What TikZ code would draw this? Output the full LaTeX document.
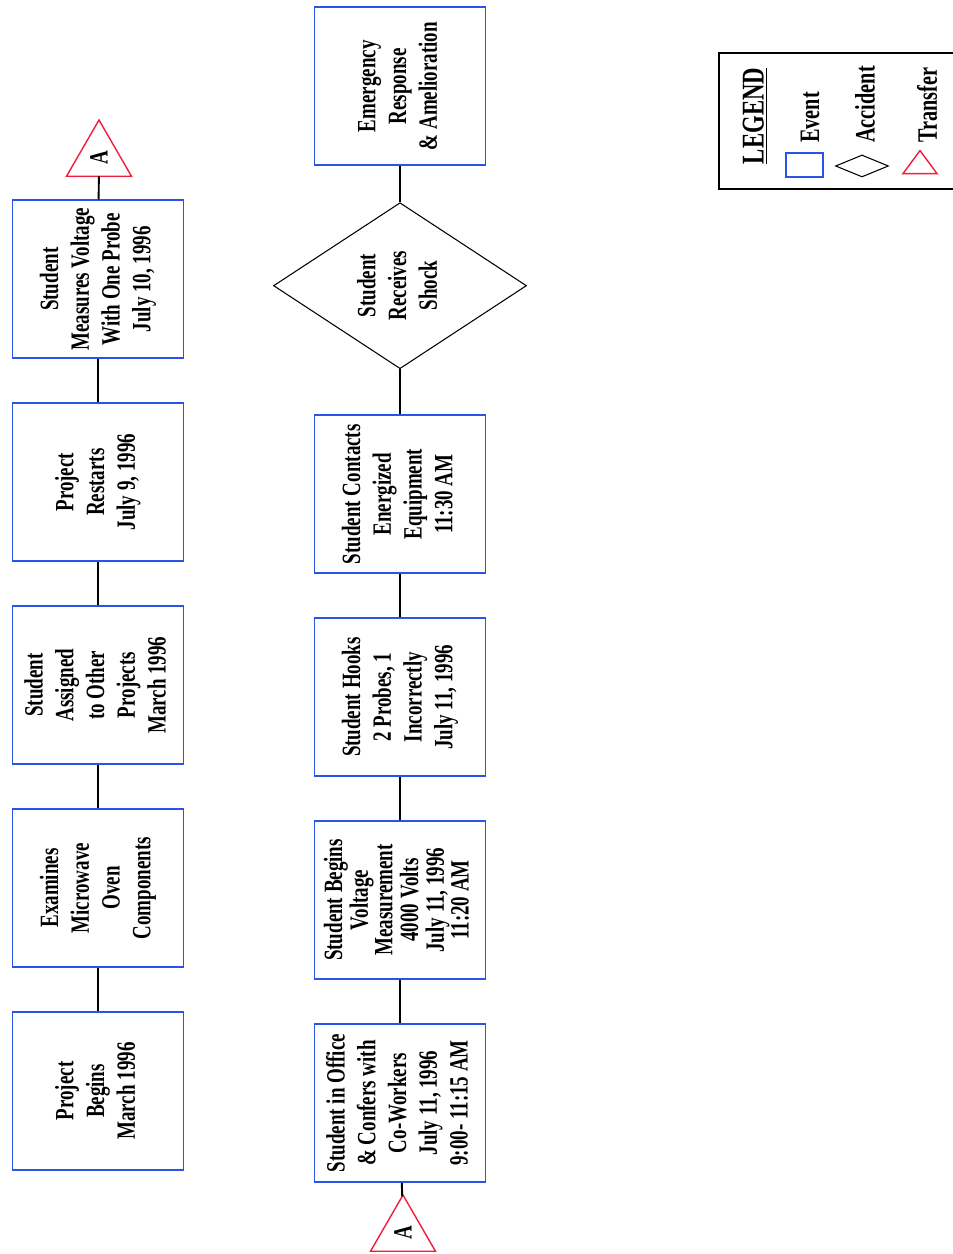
\documentclass[tikz,border=0pt]{standalone}
\usepackage{fontspec}
\setmainfont{Liberation Serif}[FakeStretch=0.72,BoldFont=Liberation Serif Bold,BoldFeatures={FakeStretch=0.72}]
\usetikzlibrary{positioning,shapes.geometric}
\definecolor{evblue}{RGB}{40,85,230}
\definecolor{trred}{RGB}{240,30,60}
\newcommand{\vtxt}[1]{\rotatebox{90}{\begin{tabular}{@{}c@{}}#1\end{tabular}}}

\begin{document}
\begin{tikzpicture}[
node distance=0.86cm,
txt/.style={font=\fontsize{15}{17.5}\selectfont\bfseries},
event/.style={txt,draw=evblue,line width=1.1pt,minimum width=3.42cm,minimum height=3.16cm,inner sep=0pt},
accident/.style={txt,draw,diamond,line width=0.6pt,minimum width=5.06cm,minimum height=3.32cm,inner sep=0pt},
transfer/.style={txt,draw=trred,regular polygon,regular polygon sides=3,minimum size=1.5cm,inner sep=0pt,outer sep=0pt,line width=0.8pt},
link/.style={line width=1.1pt}]
\useasboundingbox (0,0) rectangle (19.06,25.08);

% first chain
\node[event] (begins) at (1.96,3.26) {\vtxt{Project\\Begins\\March 1996}};
\node[event] (examines) [above=of begins] {\vtxt{Examines\\Microwave\\Oven\\Components}};
\node[event] (assigned) [above=of examines] {\vtxt{Student\\Assigned\\to Other\\Projects\\March 1996}};
\node[event] (restarts) [above=of assigned] {\vtxt{Project\\Restarts\\July 9, 1996}};
\node[event] (measures) [above=of restarts] {\vtxt{Student\\Measures Voltage\\With One Probe\\July 10, 1996}};
\node[transfer] (transa) at (1.98,21.93) {\rotatebox{90}{A}};

% second chain
\node[transfer] (transb) at (8.06,0.43) {\rotatebox{90}{A}};
\node[event] (office) at (8.0,3.02) {\vtxt{Student in Office\\\& Confers with\\Co-Workers\\July 11, 1996\\9:00- 11:15 AM}};
\node[event,font=\fontsize{15}{14}\selectfont\bfseries] (voltbeg) [above=of office] {\vtxt{Student Begins\\Voltage\\Measurement\\4000 Volts\\July 11, 1996\\11:20 AM}};
\node[event] (hooks) [above=of voltbeg] {\vtxt{Student Hooks\\2 Probes, 1\\Incorrectly\\July 11, 1996}};
\node[event] (contacts) [above=of hooks] {\vtxt{Student Contacts\\Energized\\Equipment\\11:30 AM}};
\node[accident] (shock) [above=0.9cm of contacts] {\vtxt{Student\\Receives\\Shock}};
\node[event] (emerg) [above=0.72cm of shock] {\vtxt{Emergency\\Response\\\& Amelioration}};

\draw[link] (begins) -- (examines);
\draw[link] (examines) -- (assigned);
\draw[link] (assigned) -- (restarts);
\draw[link] (restarts) -- (measures);
\draw[link] (measures) -- (transa);
\draw[link] (transb) -- (office);
\draw[link] (office) -- (voltbeg);
\draw[link] (voltbeg) -- (hooks);
\draw[link] (hooks) -- (contacts);
\draw[link] (contacts) -- (shock);
\draw[link] (shock) -- (emerg);

% legend
\node[draw,line width=1.1pt,minimum width=4.84cm,minimum height=2.72cm,anchor=north west] (legend) at (14.36,24.04) {};
\node[txt,font=\fontsize{18}{20}\selectfont\bfseries] (legtitle) at (15.1,22.76) {\rotatebox{90}{\underline{LEGEND}}};
\node[draw=evblue,line width=1pt,minimum width=0.74cm,minimum height=0.48cm,inner sep=0pt] (legev) at (16.09,21.78) {};
\node[draw,diamond,line width=0.6pt,minimum width=1.06cm,minimum height=0.44cm,inner sep=0pt] (legacc) at (17.24,21.76) {};
\node[draw=trred,isosceles triangle,shape border rotate=90,isosceles triangle stretches,minimum width=0.68cm,minimum height=0.46cm,inner sep=0pt,line width=0.8pt] (legtr) at (18.4,21.78) {};
\node[txt,font=\fontsize{16}{18}\selectfont\bfseries,anchor=south,inner sep=0pt] (legevt) at (16.2,22.22) {\rotatebox{90}{Event}};
\node[txt,font=\fontsize{16}{18}\selectfont\bfseries,anchor=south,inner sep=0pt] (legacct) at (17.3,22.22) {\rotatebox{90}{Accident}};
\node[txt,font=\fontsize{16}{18}\selectfont\bfseries,anchor=south,inner sep=0pt] (legtrt) at (18.54,22.22) {\rotatebox{90}{Transfer}};
\end{tikzpicture}
\end{document}
